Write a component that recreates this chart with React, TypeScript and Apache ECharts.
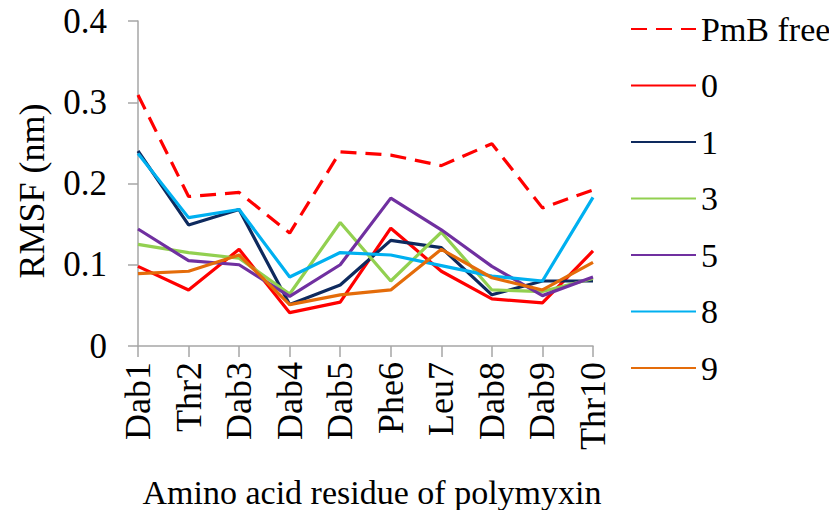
import React, { useEffect, useRef } from "react";
import * as echarts from "echarts";

const categories = ["Dab1", "Thr2", "Dab3", "Dab4", "Dab5", "Phe6", "Leu7", "Dab8", "Dab9", "Thr10"];
const yTicks = { min: 0, max: 0.4, interval: 0.1 };

const pmbFree = [0.309, 0.184, 0.189, 0.139, 0.239, 0.235, 0.222, 0.249, 0.170, 0.192];
const s0 = [0.098, 0.069, 0.119, 0.041, 0.054, 0.145, 0.092, 0.058, 0.053, 0.117];
const s1 = [0.240, 0.149, 0.168, 0.051, 0.075, 0.130, 0.121, 0.063, 0.080, 0.080];
const s3 = [0.125, 0.115, 0.108, 0.064, 0.152, 0.080, 0.140, 0.069, 0.067, 0.083];
const s5 = [0.144, 0.105, 0.100, 0.061, 0.100, 0.182, 0.143, 0.098, 0.062, 0.085];
const s8 = [0.237, 0.158, 0.168, 0.085, 0.115, 0.112, 0.099, 0.086, 0.080, 0.183];
const s9 = [0.089, 0.092, 0.112, 0.051, 0.063, 0.069, 0.119, 0.084, 0.069, 0.103];

const seriesNames = ["PmB free", "0", "1", "3", "5", "8", "9"];
const seriesData = [pmbFree, s0, s1, s3, s5, s8, s9];
const seriesColors = ["#FF0000", "#FF0000", "#0E2A5E", "#92D050", "#7030A0", "#00B0F0", "#E46C0A"];

const FONT = "Liberation Serif";

export default function App() {
  const ref = useRef<HTMLDivElement>(null);
  useEffect(() => {
    document.body.style.margin = "0";
    if (!ref.current) return;
    const chart = echarts.init(ref.current, null, { renderer: "svg" });
    chart.setOption({
      animation: false,
      backgroundColor: "#ffffff",
      textStyle: { fontFamily: FONT },
      grid: { left: 138, right: 236, top: 21, bottom: 164, containLabel: false },
      legend: {
        orient: "vertical",
        left: 630,
        top: 12,
        padding: 0,
        itemWidth: 65,
        itemHeight: 14,
        itemGap: 22.5,
        data: seriesNames,
        itemStyle: { opacity: 0 },
        textStyle: { fontFamily: FONT, fontSize: 34, color: "#000", lineHeight: 34 },
      },
      xAxis: {
        type: "category",
        data: categories,
        boundaryGap: false,
        axisLine: { lineStyle: { color: "#A6A6A6", width: 1.5 } },
        axisTick: { show: true, length: 11, lineStyle: { color: "#A6A6A6", width: 1.5 } },
        axisLabel: { rotate: 90, margin: 16, fontFamily: FONT, fontSize: 36, color: "#000", interval: 0 },
        splitLine: { show: false },
      },
      yAxis: {
        type: "value",
        min: yTicks.min,
        max: yTicks.max,
        interval: yTicks.interval,
        axisLine: { show: true, lineStyle: { color: "#A6A6A6", width: 1.5 } },
        axisTick: { show: true, length: 10, lineStyle: { color: "#A6A6A6", width: 1.5 } },
        axisLabel: { margin: 31, fontFamily: FONT, fontSize: 35, color: "#000" },
        splitLine: { show: false },
      },
      graphic: [
        {
          type: "text",
          x: 32,
          y: 191,
          rotation: Math.PI / 2,
          style: {
            text: "RMSF (nm)",
            fontFamily: FONT,
            fontSize: 36,
            fill: "#000",
            align: "center",
            verticalAlign: "middle",
          },
        },
        {
          type: "text",
          x: 372,
          y: 492,
          style: {
            text: "Amino acid residue of polymyxin",
            fontFamily: FONT,
            fontSize: 34,
            fill: "#000",
            align: "center",
            verticalAlign: "middle",
          },
        },
      ],
      series: seriesNames.map((name, i) => ({
        name,
        type: "line",
        data: seriesData[i],
        symbol: "none",
        showSymbol: false,
        color: seriesColors[i],
        lineStyle: {
          color: seriesColors[i],
          width: 3.2,
          type: i === 0 ? [16, 9] : "solid",
        },
      })),
    });
    return () => chart.dispose();
  }, []);
  return <div ref={ref} style={{ width: 829, height: 510 }} />;
}
